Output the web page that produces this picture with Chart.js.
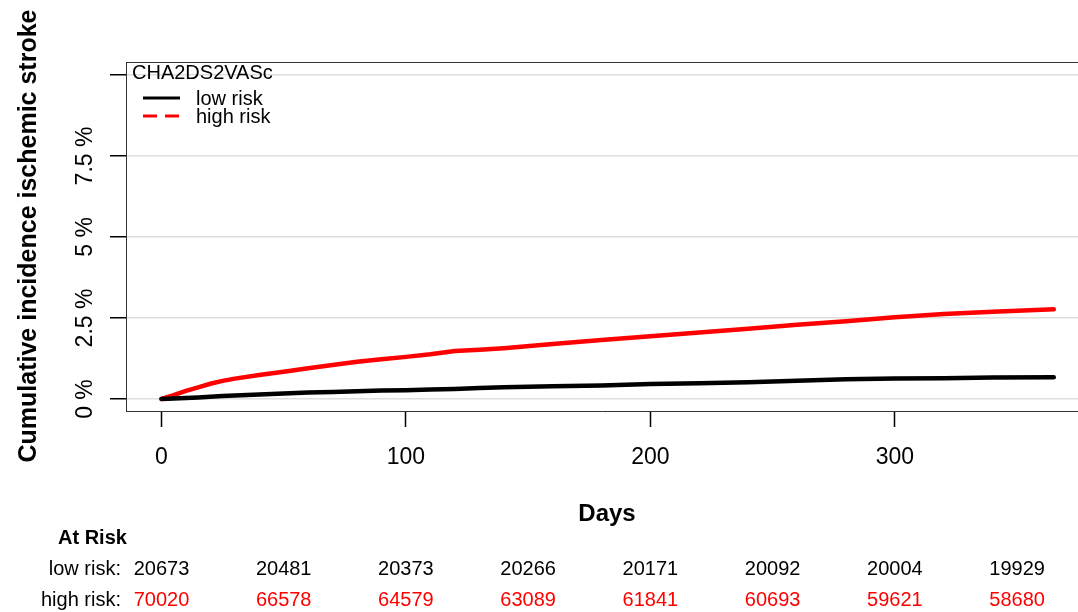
<!DOCTYPE html>
<html>
<head>
<meta charset="utf-8">
<script src="https://cdn.jsdelivr.net/npm/chart.js@4"></script>
<style>
  html, body { margin: 0; padding: 0; background: #fff; }
  #wrap { width: 1078px; height: 612px; }
</style>
</head>
<body>
<div id="wrap"><canvas id="chart" width="1078" height="612"></canvas></div>
<script>
'use strict';

// data
const days     = [0, 5, 10, 15, 20, 25, 30, 40, 50, 60, 70, 80, 90, 100, 110, 120, 130, 140, 160, 180, 200, 220, 240, 260, 280, 300, 320, 340, 365];
const lowRisk  = [0, 0.015, 0.03, 0.05, 0.07, 0.09, 0.11, 0.14, 0.17, 0.20, 0.22, 0.24, 0.26, 0.27, 0.29, 0.31, 0.34, 0.36, 0.39, 0.42, 0.46, 0.49, 0.52, 0.56, 0.61, 0.63, 0.64, 0.66, 0.67];
const highRisk = [0, 0.12, 0.25, 0.36, 0.47, 0.56, 0.63, 0.74, 0.84, 0.95, 1.05, 1.15, 1.23, 1.30, 1.38, 1.48, 1.52, 1.57, 1.70, 1.82, 1.94, 2.05, 2.17, 2.29, 2.40, 2.52, 2.62, 2.69, 2.77];

const xTicks = [0, 100, 200, 300];
const yTicks = [0, 2.5, 5, 7.5, 10];
const yTickLabels = ['0 %', '2.5 %', '5 %', '7.5 %', ''];

const riskDays   = [0, 50, 100, 150, 200, 250, 300, 350];
const lowAtRisk  = [20673, 20481, 20373, 20266, 20171, 20092, 20004, 19929];
const highAtRisk = [70020, 66578, 64579, 63089, 61841, 60693, 59621, 58680];

const FONT = '"Liberation Sans", Arial, sans-serif';

function pts(ys) {
  return days.map((d, i) => ({ x: d, y: ys[i] }));
}

const extras = {
  id: 'extras',
  afterDraw(chart) {
    const ctx = chart.ctx;
    const area = chart.chartArea;
    const xs = chart.scales.x;
    const ys = chart.scales.y;
    ctx.save();

    // top edge of the box
    ctx.strokeStyle = '#333';
    ctx.lineWidth = 1;
    ctx.beginPath();
    ctx.moveTo(area.left, area.top + 0.5);
    ctx.lineTo(area.right, area.top + 0.5);
    ctx.stroke();

    // y tick labels, rotated
    ctx.fillStyle = '#000';
    ctx.font = '23px ' + FONT;
    ctx.textAlign = 'center';
    ctx.textBaseline = 'middle';
    yTicks.forEach((v, i) => {
      if (!yTickLabels[i]) return;
      ctx.save();
      ctx.translate(86, ys.getPixelForValue(v));
      ctx.rotate(-Math.PI / 2);
      ctx.fillText(yTickLabels[i], 0, 0);
      ctx.restore();
    });

    // axis titles
    ctx.font = 'bold 25px ' + FONT;
    ctx.save();
    ctx.translate(29, 236);
    ctx.rotate(-Math.PI / 2);
    ctx.fillText('Cumulative incidence ischemic stroke', 0, 0);
    ctx.restore();
    ctx.font = 'bold 24px ' + FONT;
    ctx.fillText('Days', 607, 514);

    // legend
    ctx.textAlign = 'left';
    ctx.font = '20px ' + FONT;
    ctx.fillText('CHA2DS2VASc', 132, 73);
    chart.data.datasets.forEach((ds, i) => {
      const y = 98 + i * 18;
      ctx.strokeStyle = ds.borderColor;
      ctx.lineWidth = 3;
      ctx.setLineDash(i === 0 ? [] : [14, 8]);
      ctx.beginPath();
      ctx.moveTo(143, y);
      ctx.lineTo(180, y);
      ctx.stroke();
      ctx.setLineDash([]);
      ctx.fillStyle = '#000';
      ctx.fillText(ds.label, 196, y + 1);
    });

    // numbers at risk
    ctx.font = 'bold 20px ' + FONT;
    ctx.fillText('At Risk', 58, 538);
    ctx.font = '20px ' + FONT;
    ctx.textAlign = 'right';
    ctx.fillText('low risk:', 121, 569);
    ctx.fillText('high risk:', 121, 600);
    ctx.textAlign = 'center';
    riskDays.forEach((d, i) => {
      const px = xs.getPixelForValue(d);
      ctx.fillStyle = '#000';
      ctx.fillText(String(lowAtRisk[i]), px, 569);
      ctx.fillStyle = '#ff0000';
      ctx.fillText(String(highAtRisk[i]), px, 600);
    });

    ctx.restore();
  }
};

new Chart(document.getElementById('chart'), {
  type: 'line',
  data: {
    datasets: [
      {
        label: 'low risk',
        data: pts(lowRisk),
        borderColor: '#000000',
        borderWidth: 4.5,
        borderCapStyle: 'round',
        pointRadius: 0,
        tension: 0
      },
      {
        label: 'high risk',
        data: pts(highRisk),
        borderColor: '#ff0000',
        borderWidth: 4.5,
        borderCapStyle: 'round',
        pointRadius: 0,
        tension: 0
      }
    ]
  },
  options: {
    responsive: false,
    animation: false,
    devicePixelRatio: 1,
    layout: { padding: { top: 62, left: 0, right: 0, bottom: 0 } },
    plugins: {
      legend: { display: false },
      tooltip: { enabled: false }
    },
    scales: {
      x: {
        type: 'linear',
        min: -14.5,
        max: 374.9,
        afterBuildTicks: s => { s.ticks = xTicks.map(v => ({ value: v })); },
        afterFit: s => { s.height = 201; },
        grid: {
          drawOnChartArea: false,
          drawTicks: true,
          tickLength: 16,
          tickColor: '#000',
          tickWidth: 1.5
        },
        border: { display: true, color: '#333', width: 1 },
        ticks: {
          color: '#000',
          font: { family: FONT, size: 23 },
          padding: 17,
          maxRotation: 0
        }
      },
      y: {
        type: 'linear',
        min: -0.37,
        max: 10.4,
        afterBuildTicks: s => { s.ticks = yTicks.map(v => ({ value: v })); },
        afterFit: s => { s.width = 126; },
        grid: {
          color: '#dedede',
          lineWidth: 1.5,
          drawTicks: true,
          tickLength: 16,
          tickColor: '#000',
          tickWidth: 1.5
        },
        border: { display: true, color: '#333', width: 1 },
        ticks: { display: false }
      }
    }
  },
  plugins: [extras]
});
</script>
</body>
</html>
